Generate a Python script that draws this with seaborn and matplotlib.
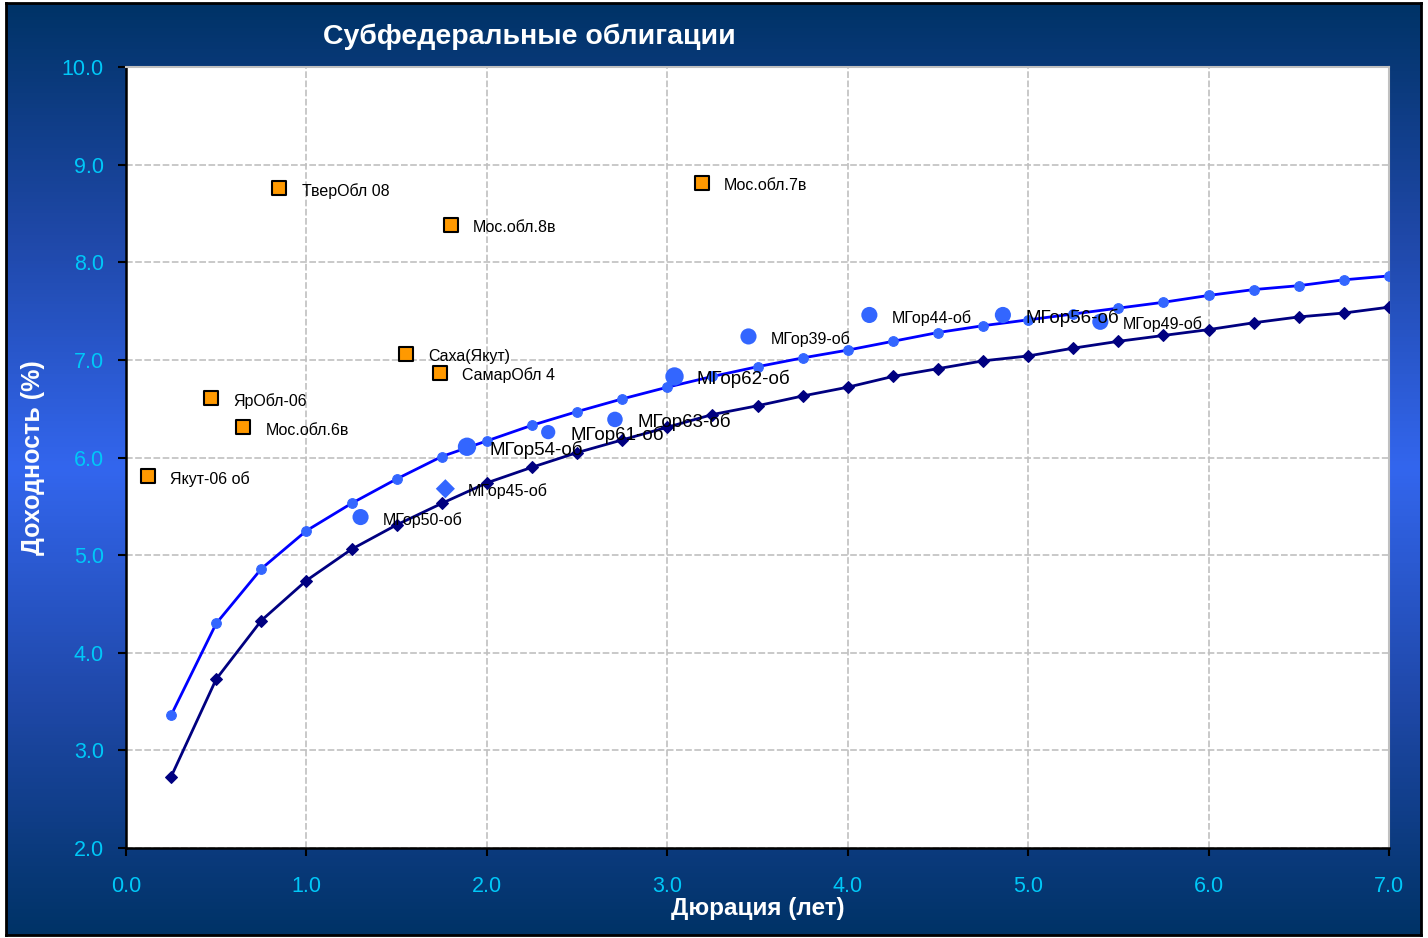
import numpy as np
import pandas as pd
import matplotlib
matplotlib.use("Agg")
import matplotlib.pyplot as plt
import seaborn as sns
from matplotlib.colors import LinearSegmentedColormap

# --- данные ---
curve_x = [0.25, 0.5, 0.75, 1.0, 1.25, 1.5, 1.75, 2.0, 2.25, 2.5, 2.75, 3.0, 3.25, 3.5,
           3.75, 4.0, 4.25, 4.5, 4.75, 5.0, 5.25, 5.5, 5.75, 6.0, 6.25, 6.5, 6.75, 7.0]
curve_upper = [3.36, 4.30, 4.86, 5.25, 5.53, 5.78, 6.01, 6.17, 6.33, 6.47, 6.60, 6.72, 6.83, 6.93,
               7.02, 7.10, 7.19, 7.28, 7.35, 7.41, 7.47, 7.53, 7.59, 7.66, 7.72, 7.76, 7.82, 7.86]
curve_lower = [2.73, 3.73, 4.33, 4.74, 5.06, 5.31, 5.53, 5.74, 5.90, 6.05, 6.18, 6.31, 6.44, 6.53,
               6.63, 6.72, 6.83, 6.91, 6.99, 7.04, 7.12, 7.19, 7.25, 7.31, 7.38, 7.44, 7.48, 7.54]

region_names = ['Якут-06 об', 'ЯрОбл-06', 'Мос.обл.6в', 'ТверОбл 08', 'Мос.обл.8в',
                'Саха(Якут)', 'СамарОбл 4', 'Мос.обл.7в']
region_dur = [0.12, 0.47, 0.65, 0.85, 1.80, 1.55, 1.74, 3.19]
region_yld = [5.81, 6.61, 6.31, 8.76, 8.38, 7.06, 6.87, 8.81]

mgor_names = ['МГор50-об', 'МГор54-об', 'МГор61-об', 'МГор63-об', 'МГор62-об',
              'МГор39-об', 'МГор44-об', 'МГор56-об', 'МГор49-об']
mgor_dur = [1.30, 1.89, 2.34, 2.71, 3.04, 3.45, 4.12, 4.86, 5.40]
mgor_yld = [5.39, 6.11, 6.26, 6.39, 6.83, 7.24, 7.46, 7.46, 7.39]

mgor45_name = ['МГор45-об']
mgor45_dur = [1.77]
mgor45_yld = [5.68]

# --- стиль ---
sns.set_style("white")
plt.rcParams['font.family'] = ['Liberation Sans', 'DejaVu Sans']

fig = plt.figure(figsize=(14.28, 9.38), dpi=100, facecolor='white')

# фон с градиентом (тёмный сверху и снизу, светлый в середине)
bg = fig.add_axes([6/1428, 3/938, 1415/1428, 932/938], zorder=0)
cmap = LinearSegmentedColormap.from_list('bg', ['#003366', '#1f48a8', '#3366ee', '#1f48a8', '#003366'])
grad = np.linspace(0, 1, 256).reshape(-1, 1)
bg.imshow(grad, aspect='auto', cmap=cmap, extent=[0, 1, 0, 1])
bg.set_xticks([])
bg.set_yticks([])
for s in bg.spines.values():
    s.set_color('black')
    s.set_linewidth(2)

ax = fig.add_axes([126/1428, 90/938, 1263/1428, 781/938], zorder=1)
ax.set_facecolor('white')

df_curve = pd.DataFrame({'x': curve_x, 'up': curve_upper, 'low': curve_lower})
sns.lineplot(data=df_curve, x='x', y='up', ax=ax, color='#0000ff', linewidth=2,
             marker='o', markersize=7, markerfacecolor='#3366ff', markeredgecolor='#3366ff', zorder=3)
sns.lineplot(data=df_curve, x='x', y='low', ax=ax, color='#000080', linewidth=2,
             marker='D', markersize=6, markerfacecolor='#000080', markeredgecolor='#000080', zorder=3)

df_reg = pd.DataFrame({'x': region_dur, 'y': region_yld, 'name': region_names})
sns.scatterplot(data=df_reg, x='x', y='y', ax=ax, marker='s', s=95, color='#ff9900',
                edgecolor='black', linewidth=1.5, zorder=4)

df_mg = pd.DataFrame({'x': mgor_dur, 'y': mgor_yld, 'name': mgor_names})
bubble_s = [135, 175, 105, 125, 175, 135, 135, 135, 135]
sns.scatterplot(data=df_mg, x='x', y='y', ax=ax, s=bubble_s, color='#3366ff',
                edgecolor='none', zorder=4)

df_45 = pd.DataFrame({'x': mgor45_dur, 'y': mgor45_yld})
sns.scatterplot(data=df_45, x='x', y='y', ax=ax, marker='D', s=95, color='#3366ff',
                edgecolor='none', zorder=4)

# подписи точек
big_labels = {'МГор54-об', 'МГор61-об', 'МГор63-об', 'МГор62-об', 'МГор56-об'}
for n, x, y in zip(region_names + mgor_names + mgor45_name,
                   region_dur + mgor_dur + mgor45_dur,
                   region_yld + mgor_yld + mgor45_yld):
    fs = 13.5 if n in big_labels else 11.5
    ax.annotate(n, (x, y), xytext=(16, -2), textcoords='offset points',
                ha='left', va='center', fontsize=fs, color='black', zorder=5)

ax.set_xlim(0, 7)
ax.set_ylim(2, 10)
ax.set_xticks(np.arange(0, 7.1, 1))
ax.set_yticks(np.arange(2, 10.1, 1))
ax.set_xticklabels([f'{v:.1f}' for v in np.arange(0, 7.1, 1)])
ax.set_yticklabels([f'{v:.1f}' for v in np.arange(2, 10.1, 1)])
ax.grid(True, color='#c0c0c0', linestyle=(0, (4, 1.5)), linewidth=1.2)
ax.tick_params(axis='both', colors='black', labelcolor='#00c8f8', labelsize=15.5,
               direction='out', length=6, width=1.5, bottom=True, left=True)
ax.tick_params(axis='x', pad=14)
ax.tick_params(axis='y', pad=10)
for side in ['top', 'right']:
    ax.spines[side].set_color('#c0c0c0')
    ax.spines[side].set_linewidth(1.5)
for side in ['left', 'bottom']:
    ax.spines[side].set_color('black')
    ax.spines[side].set_linewidth(1.8)

ax.set_xlabel('Дюрация (лет)', color='white', fontsize=17.5, fontweight='bold', labelpad=0)
ax.set_ylabel('Доходность (%)', color='white', fontsize=18, fontweight='bold', labelpad=12)

fig.text(529/1428, 1 - 37/938, 'Субфедеральные облигации', color='white', fontsize=20.5,
         fontweight='bold', ha='center', va='center')

fig.savefig('out.png', dpi=100, facecolor='white')
